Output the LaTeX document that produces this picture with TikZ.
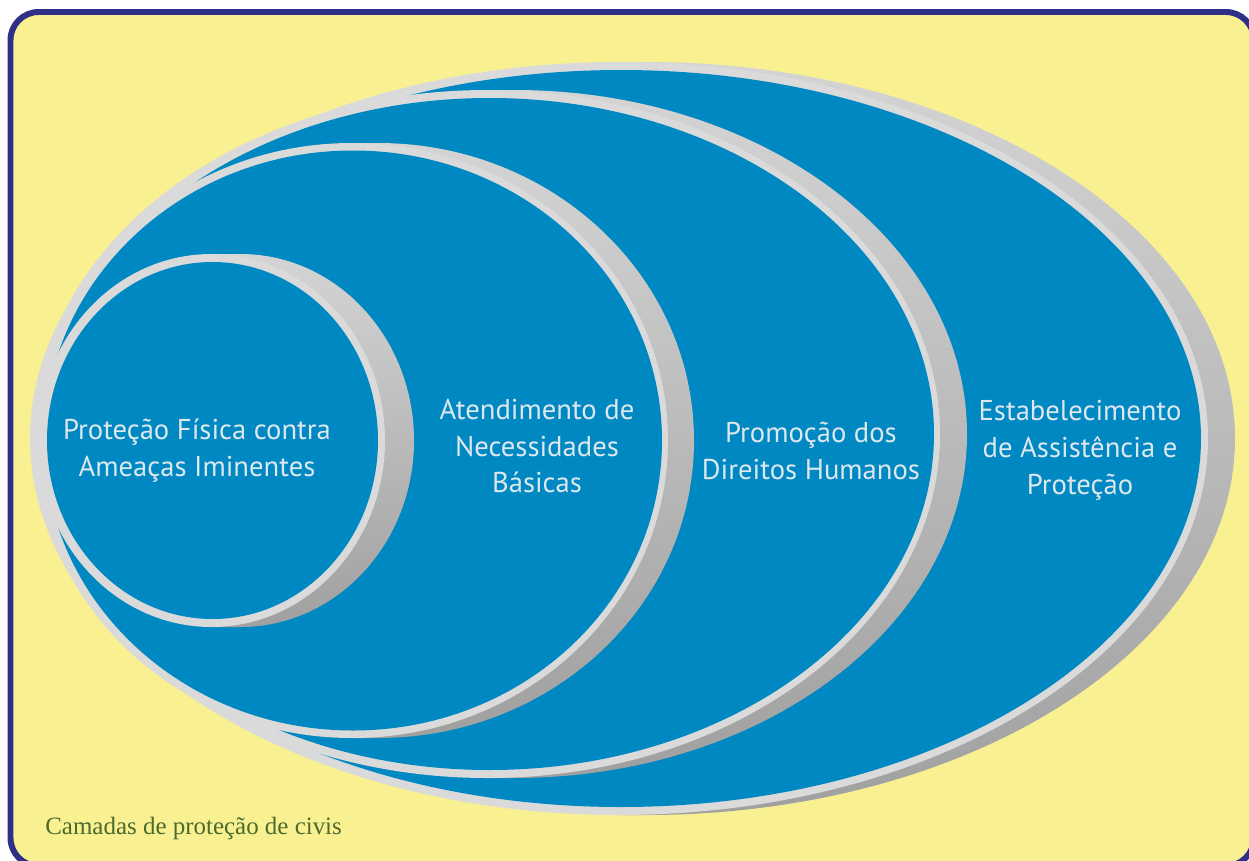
\documentclass[tikz,border=0pt]{standalone}
\usepackage{fontspec}
\setmainfont{Liberation Serif}
\newfontfamily\layerfont{PT Sans}

\definecolor{bgyellow}{HTML}{F9F092}
\definecolor{framecol}{HTML}{2E3088}
\definecolor{faceblue}{HTML}{0088C2}
\definecolor{ringgray}{HTML}{DADADA}
\definecolor{sidetop}{HTML}{D4D4D4}
\definecolor{sidebot}{HTML}{A0A0A0}
\definecolor{labeltext}{HTML}{DCE7EE}
\definecolor{captiongreen}{HTML}{4B6A2C}

\tikzset{
  ring/.style={fill=ringgray},
  face/.style={fill=faceblue},
  side/.style={top color=sidetop, bottom color=sidebot},
  layertext/.style={text=labeltext, align=center,
    font=\layerfont\fontsize{16.3}{21}\selectfont}
}

\begin{document}
\begin{tikzpicture}[x=0.02cm,y=-0.02cm]
  \clip (0,0) rectangle (1249,860);
  \fill[white] (0,0) rectangle (1249,860);
  \draw[framecol, line width=3.4pt, fill=bgyellow, rounded corners=16pt] (10.5,12) rectangle (1254,866);

  % outer layer
  \shade[side] (619,62) -- (646,62) arc[start angle=-90, end angle=90, x radius=589, y radius=376.5] -- (619,815) -- cycle;
  \fill[ring] (619,438.5) ellipse [x radius=589, y radius=376.5];
  \fill[face] (621,438.5) ellipse [x radius=580, y radius=368.5];

  % second layer
  \shade[side] (487.5,90) -- (514.5,90) arc[start angle=-90, end angle=90, x radius=452.5, y radius=344] -- (487.5,778) -- cycle;
  \fill[ring] (487.5,434) ellipse [x radius=452.5, y radius=344];
  \fill[face] (489.5,434) ellipse [x radius=444.5, y radius=336];

  % third layer
  \shade[side] (352,143) -- (378,143) arc[start angle=-90, end angle=90, x radius=316, y radius=297.5] -- (352,738) -- cycle;
  \fill[ring] (352,440.5) ellipse [x radius=316, y radius=297.5];
  \fill[face] (353,440.5) ellipse [x radius=309, y radius=290];

  % inner circle
  \shade[side] (211.5,254) -- (240.5,254) arc[start angle=-90, end angle=90, x radius=173.5, y radius=186.5] -- (211.5,627) -- cycle;
  \fill[ring] (211.5,440.5) ellipse [x radius=173.5, y radius=186.5];
  \fill[face] (212.5,440.5) ellipse [x radius=165.5, y radius=178.5];

  \node[layertext] (protecao) at (197,451) {Proteção Física contra\\Ameaças Iminentes};
  \node[layertext] (atendimento) at (537,446) {Atendimento de\\Necessidades\\Básicas};
  \node[layertext] (promocao) at (811,451) {Promoção dos\\Direitos Humanos};
  \node[layertext] (estabelecimento) at (1080,450) {Estabelecimento\\de Assistência e\\Proteção};

  \node[anchor=base west, text=captiongreen, inner sep=0pt,
    font=\fontsize{14.2}{16}\selectfont] (legenda) at (45,834) {Camadas de proteção de civis};
\end{tikzpicture}
\end{document}
